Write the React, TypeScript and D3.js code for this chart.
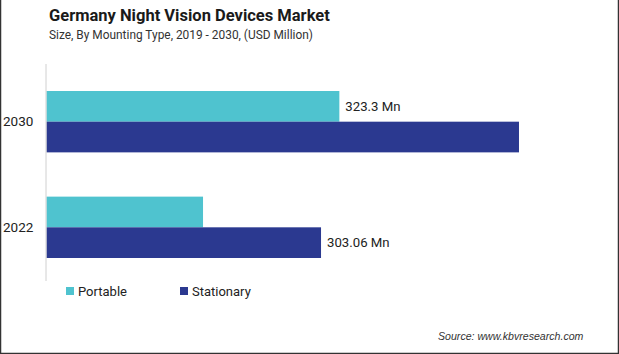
import React from "react";
import * as d3 from "d3";

const years = ["2030", "2022"];
const seriesNames = ["Portable", "Stationary"];
const portable = [323.3, 172.8];
const stationary = [521.6, 303.06];
const valueLabels = [
  { series: "Portable", year: "2030", text: "323.3 Mn" },
  { series: "Stationary", year: "2022", text: "303.06 Mn" },
];
const colors = ["#4FC3CF", "#2B3990"];

const W = 619;
const H = 354;

export default function App() {
  const x = d3.scaleLinear().domain([0, 600]).range([46.5, 590]);
  const y = d3.scaleBand<string>().domain(years).range([91, 258]).paddingInner(0.419).paddingOuter(0);
  const sub = d3.scaleBand<string>().domain(seriesNames).range([0, y.bandwidth()]);
  const values: Record<string, number[]> = { Portable: portable, Stationary: stationary };

  return (
    <svg width={W} height={H} style={{ position: "absolute", left: 0, top: 0, background: "#fff" }}>
      <rect x={0} y={0} width={W} height={H} fill="#fff" />
      {/* frame */}
      <line x1={0.5} y1={0} x2={0.5} y2={H} stroke="#333" strokeWidth={1.5} />
      <line x1={W - 0.5} y1={0} x2={W - 0.5} y2={H} stroke="#333" strokeWidth={1.5} />
      <line x1={0} y1={H - 0.5} x2={W} y2={H - 0.5} stroke="#333" strokeWidth={1.5} />

      <text x={49} y={21} fontFamily="Roboto, 'Noto Sans', sans-serif" fontWeight={700} fontSize={16.5} fill="#1a1a1a">
        Germany Night Vision Devices Market
      </text>
      <text x={49} y={39} fontFamily="Roboto, 'Noto Sans', sans-serif" fontSize={11.9} fill="#333">
        Size, By Mounting Type, 2019 - 2030, (USD Million)
      </text>

      {seriesNames.map((s, si) =>
        years.map((yr, yi) => (
          <rect
            key={s + yr}
            x={x(0)}
            y={(y(yr) as number) + (sub(s) as number)}
            width={x(values[s][yi]) - x(0)}
            height={sub.bandwidth()}
            fill={colors[si]}
          />
        ))
      )}

      <line x1={46} y1={64} x2={46} y2={281} stroke="#d0d0d0" strokeWidth={1} />

      {years.map((yr) => (
        <text
          key={yr}
          x={3}
          y={(y(yr) as number) + y.bandwidth() / 2}
          dy="0.35em"
          fontFamily="Roboto, sans-serif"
          fontSize={13.5}
          fill="#222"
        >
          {yr}
        </text>
      ))}

      {valueLabels.map((l) => {
        const yi = years.indexOf(l.year);
        const v = values[l.series][yi];
        return (
          <text
            key={l.text}
            x={x(v) + 6}
            y={(y(l.year) as number) + (sub(l.series) as number) + sub.bandwidth() / 2}
            dy="0.35em"
            fontFamily="Roboto, sans-serif"
            fontSize={13.2}
            fill="#222"
          >
            {l.text}
          </text>
        );
      })}

      {seriesNames.map((s, si) => {
        const lx = [66, 180][si];
        return (
          <g key={s}>
            <rect x={lx} y={287} width={8} height={8} fill={colors[si]} />
            <text x={lx + 12} y={291} dy="0.35em" fontFamily="Roboto, sans-serif" fontSize={13} fill="#222">
              {s}
            </text>
          </g>
        );
      })}

      <text x={438} y={336} dy="0.35em" fontFamily="'Liberation Sans', Arial, sans-serif" fontStyle="italic" fontSize={10.6} fill="#333">
        Source: www.kbvresearch.com
      </text>
    </svg>
  );
}
